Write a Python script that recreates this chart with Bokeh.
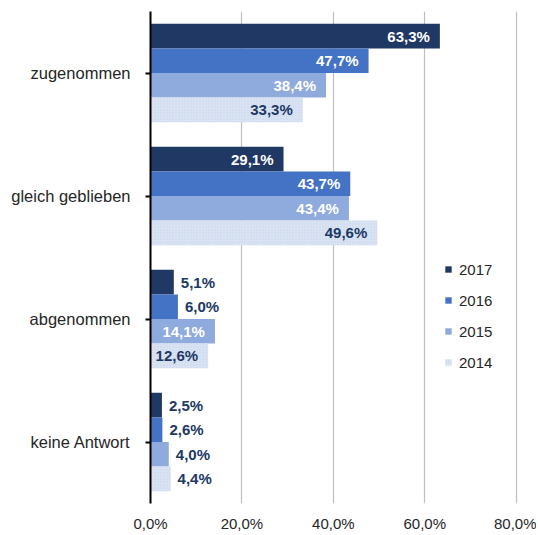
from bokeh.plotting import figure
from bokeh.models import (ColumnDataSource, FactorRange, Range1d, FixedTicker,
                          CustomJSTickFormatter, Legend, LegendItem)
from bokeh.transform import dodge
from bokeh.core.properties import value
from bokeh.embed import file_html
from bokeh.resources import INLINE

categories = ["zugenommen", "gleich geblieben", "abgenommen", "keine Antwort"]
years = ["2017", "2016", "2015", "2014"]
v2017 = [63.3, 29.1, 5.1, 2.5]
v2016 = [47.7, 43.7, 6.0, 2.6]
v2015 = [38.4, 43.4, 14.1, 4.0]
v2014 = [33.3, 49.6, 12.6, 4.4]
x_ticks = [0, 20, 40, 60, 80]

series = [v2017, v2016, v2015, v2014]
colors = ["#203864", "#4472C4", "#8FAADC", "#DAE3F3"]
inside_text = ["#FFFFFF", "#FFFFFF", "#FFFFFF", "#203864"]
offsets = [0.3, 0.1, -0.1, -0.3]
FONT = "Liberation Sans"

p = figure(frame_width=368, frame_height=492, output_backend="svg", toolbar_location=None,
           y_range=FactorRange(factors=list(reversed(categories)), range_padding=0),
           x_range=Range1d(0, 80.5),
           min_border_left=150, min_border_top=11, min_border_right=18,
           min_border_bottom=20)
p.outline_line_color = None
p.background_fill_color = "white"
p.border_fill_color = "white"

items = []
for yr, vals, col, tcol, off in zip(years, series, colors, inside_text, offsets):
    big = [v >= 10 for v in vals]
    src = ColumnDataSource(dict(
        cat=categories,
        val=vals,
        lbl_in=[f"{v:.1f}".replace(".", ",") + "%" if b else "" for v, b in zip(vals, big)],
        lbl_out=[f"{v:.1f}".replace(".", ",") + "%" if not b else "" for v, b in zip(vals, big)],
    ))
    kw = {}
    if yr == "2014":
        kw = dict(hatch_pattern="dot", hatch_color="#B8C4E0", hatch_scale=3,
                  hatch_alpha=0.6)
    r = p.hbar(y=dodge("cat", off, range=p.y_range), left=0, right="val", height=0.2,
               source=src, fill_color=col, line_color=None, **kw)
    items.append(LegendItem(label=yr, renderers=[r]))
    p.text(x="val", y=dodge("cat", off, range=p.y_range), text="lbl_in", source=src,
           text_align="right", text_baseline="middle", x_offset=-10,
           text_color=tcol, text_font=value(FONT), text_font_style="bold",
           text_font_size="15px")
    p.text(x="val", y=dodge("cat", off, range=p.y_range), text="lbl_out", source=src,
           text_align="left", text_baseline="middle", x_offset=7,
           text_color="#203864", text_font=value(FONT), text_font_style="bold",
           text_font_size="15px")

legend = Legend(items=items, location=(294, 131), orientation="vertical",
                glyph_width=8, glyph_height=8, label_standoff=7, spacing=11,
                label_height=20, padding=0, margin=0,
                label_text_font=FONT, label_text_font_size="15px",
                label_text_color="#262626",
                border_line_color=None, background_fill_alpha=0)
p.add_layout(legend, "center")

# x axis
p.xaxis.ticker = FixedTicker(ticks=x_ticks)
p.xaxis.formatter = CustomJSTickFormatter(code="return tick.toFixed(1).replace('.', ',') + '%';")
p.xaxis.axis_line_color = None
p.xaxis.major_tick_line_color = None
p.xaxis.major_tick_out = 0
p.xaxis.major_tick_in = 0
p.xaxis.minor_tick_line_color = None
p.xaxis.major_label_text_font = FONT
p.xaxis.major_label_text_font_size = "15px"
p.xaxis.major_label_text_color = "#262626"
p.xaxis.major_label_standoff = 11

# y axis
p.yaxis.axis_line_color = "black"
p.yaxis.axis_line_width = 2
p.yaxis.major_tick_line_color = "black"
p.yaxis.major_tick_line_width = 2
p.yaxis.major_tick_out = 5
p.yaxis.major_tick_in = 0
p.yaxis.major_label_standoff = 15
p.yaxis.major_label_text_font = FONT
p.yaxis.major_label_text_font_size = "16.5px"
p.yaxis.major_label_text_color = "#262626"

p.ygrid.grid_line_color = None
p.xgrid.grid_line_color = "#BFBFBF"
p.xgrid.grid_line_width = 1.2

open("out.html", "w").write(file_html(p, INLINE))
